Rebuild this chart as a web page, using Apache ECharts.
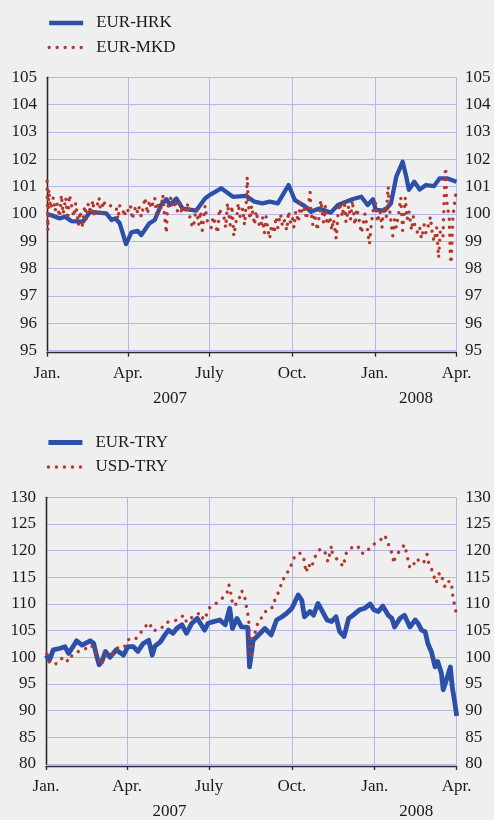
<!DOCTYPE html>
<html>
<head>
<meta charset="utf-8">
<script src="https://cdn.jsdelivr.net/npm/echarts@6/dist/echarts.min.js"></script>
<style>
  html, body { margin: 0; padding: 0; background: #efefef; }
  #chart { width: 494px; height: 820px; }
</style>
</head>
<body>
<div id="chart"></div>
<script>
// x values are days counted from 1 Jan 2007 (day 0) to 1 Apr 2008 (day 456)
var quarterDays = [0, 90, 181, 273, 365, 456];
var quarterLabels = ['Jan.', 'Apr.', 'July', 'Oct.', 'Jan.', 'Apr.'];
var yearDays = [137, 411];
var yearLabels = ['2007', '2008'];

// EUR-HRK
var hrkDays = [0, 7, 14, 20, 27, 40, 48, 66, 72, 76, 81, 88, 94, 101, 105, 114, 120, 127, 133, 137,
  144, 151, 166, 176, 181, 194, 207, 222, 226, 231, 240, 248, 257, 269, 276, 281, 287, 294, 303, 316,
  324, 333, 340, 350, 357, 363, 366, 376, 383, 389, 396, 400, 403, 409, 415, 422, 431, 437, 446, 456];
var hrkValues = [100.0, 99.93, 99.84, 99.9, 99.74, 99.72, 100.08, 100.02, 99.78, 99.84, 99.66, 98.9, 99.33, 99.38, 99.23, 99.66, 99.78, 100.33, 100.54, 100.33,
  100.57, 100.2, 100.12, 100.57, 100.69, 100.94, 100.63, 100.66, 100.57, 100.45, 100.39, 100.45, 100.39, 101.06, 100.51, 100.41, 100.29, 100.08, 100.2, 100.05,
  100.33, 100.45, 100.54, 100.63, 100.33, 100.54, 100.15, 100.12, 100.39, 101.37, 101.91, 101.37, 100.88, 101.18, 100.9, 101.06, 101.02, 101.3, 101.3, 101.18];

// EUR-MKD
var mkdDays = [0, 1, 2, 4, 7, 9, 11, 14, 16, 18, 21, 23, 25, 28, 30,
  32, 35, 37, 39, 42, 44, 46, 49, 51, 53, 56, 58,
  60, 63, 65, 67, 70, 72, 74, 77, 79, 81, 84, 86, 88,
  91, 93, 95, 98, 100, 102, 105, 107, 109, 112, 114, 116,
  120, 122, 124, 127, 129, 131, 133, 134, 136, 138, 141, 143, 145, 148, 150,
  152, 155, 157, 159, 162, 164, 166, 169, 171, 173, 176, 178, 180,
  183, 185, 187, 190, 192, 194, 197, 199, 201, 204, 206, 208, 211,
  213, 215, 218, 220, 222, 223, 224, 226, 228, 231, 233, 235, 238, 240, 242,
  244, 246, 248, 250, 253, 255, 257, 260, 262, 264, 267, 269, 271,
  273, 275, 277, 280, 282, 284, 287, 289, 291, 293, 294, 296, 298, 301, 303,
  305, 308, 310, 312, 315, 317, 319, 322, 324, 326, 329, 331, 333,
  336, 338, 340, 343, 345, 347, 350, 352, 354, 357, 359, 361, 364,
  366, 368, 371, 373, 375, 378, 379, 380, 381, 385, 387, 389, 392, 394,
  396, 399, 401, 403, 406, 408, 410, 413, 415, 417, 420, 422, 424,
  427, 429, 431, 434, 436, 438, 441, 443, 444, 445, 448, 449, 450, 451, 452, 455];
var mkdValues = [101.2, 99.4, 100.9, 100.2, 100.6, 100.1, 100.4, 99.9, 100.7, 100.0, 100.6, 99.8, 100.7, 100.2, 99.9,
  100.4, 99.6, 100.1, 99.5, 100.3, 99.8, 100.4, 100.0, 100.5, 99.9, 100.3, 100.6,
  100.0, 100.5, 100.3, 100.25, 100.3, 100.25, 100.3, 100.25, 99.8, 100.3, 100.25, 99.9, 100.2,
  100.1, 100.3, 99.8, 100.2, 100.0, 100.3, 99.9, 100.2, 100.6, 100.0, 100.5, 100.2,
  100.6, 100.0, 100.4, 100.2, 100.7, 99.9, 99.3, 100.2, 100.4, 100.6, 100.2, 100.5, 100.1, 100.4, 100.0,
  100.3, 100.1, 100.4, 99.9, 99.5, 99.7, 100.2, 99.6, 100.1, 99.4, 100.3, 99.8, 99.6,
  99.5, 99.9, 99.7, 99.3, 100.2, 100.0, 99.9, 99.5, 100.4, 99.6, 100.3, 99.2, 99.8,
  100.4, 99.9, 100.2, 99.6, 100.5, 101.35, 100.5, 99.8, 100.3, 99.6, 100.1, 99.7, 99.5, 99.9, 99.3,
  99.9, 99.4, 99.1, 99.6, 99.3, 99.9, 99.5, 100.0, 99.6, 99.8, 99.4, 100.1, 99.7,
  99.9, 99.5, 100.1, 99.7, 100.4, 100.0, 100.2, 99.8, 100.3, 100.8, 100.1, 99.6, 100.0, 99.4, 99.9,
  100.5, 99.7, 100.3, 99.6, 99.9, 99.4, 99.8, 99.1, 100.0, 100.4, 99.9, 100.5, 99.7,
  100.3, 99.8, 100.5, 99.6, 100.2, 99.9, 99.3, 99.6, 100.0, 99.4, 98.9, 99.6, 100.3,
  100.4, 99.7, 100.1, 99.5, 100.3, 99.9, 100.6, 101.0, 100.3, 99.2, 99.8, 99.5, 100.1, 100.6,
  99.4, 100.6, 99.8, 100.1, 99.4, 99.9, 99.5, 99.3, 99.5, 99.1, 99.6, 99.3, 99.5,
  99.9, 99.3, 99.0, 99.5, 98.4, 99.4, 99.2, 101.4, 101.7, 100.5, 99.8, 98.6, 98.2, 99.0, 99.9, 100.7];

// EUR-TRY
var eurTryDays = [0, 4, 8, 16, 21, 25, 30, 34, 40, 49, 53, 56, 59, 62, 66, 71, 78, 86, 91, 97,
  102, 108, 114, 118, 121, 127, 132, 136, 141, 145, 151, 156, 162, 168, 176, 180, 186, 193, 199, 204,
  207, 212, 217, 224, 226, 230, 236, 243, 250, 256, 262, 267, 273, 280, 284, 287, 293, 297, 302, 306,
  312, 317, 322, 326, 331, 336, 341, 348, 354, 360, 364, 369, 374, 380, 384, 387, 393, 398, 404, 410,
  413, 417, 421, 424, 428, 432, 435, 439, 441, 445, 449, 451, 454, 456];
var eurTryValues = [100.4, 99.5, 101.4, 101.7, 102.0, 100.75, 102.0, 103.1, 102.3, 103.1, 102.6, 100.4, 98.6, 99.2, 101.1, 100.0, 101.4, 100.4, 102.0, 102.0,
  101.1, 102.6, 103.2, 100.4, 102.1, 102.9, 104.2, 105.1, 104.5, 105.4, 106.1, 104.5, 106.4, 107.3, 105.1, 106.4, 106.7, 107.0, 106.1, 109.2,
  105.4, 107.3, 105.7, 105.6, 98.2, 103.2, 104.2, 105.4, 104.2, 107.0, 107.6, 108.2, 109.2, 111.7, 110.7, 107.6, 108.6, 107.9, 110.1, 108.9,
  107.0, 106.7, 107.6, 104.8, 103.9, 107.3, 107.9, 108.9, 109.2, 110.0, 108.9, 108.6, 109.6, 107.9, 107.3, 105.7, 107.3, 107.9, 105.7, 107.0,
  106.4, 105.1, 104.8, 102.6, 101.0, 98.2, 99.2, 97.0, 93.9, 96.0, 98.2, 94.5, 91.4, 89.0];

// USD-TRY
var usdTryDays = [1, 4, 8, 14, 19, 25, 29, 36, 43, 49, 54, 57, 61, 66, 71, 75, 81, 88, 92, 99,
  104, 109, 115, 118, 123, 128, 133, 141, 146, 153, 156, 162, 165, 171, 175, 178, 182, 188, 192, 197,
  201, 203, 205, 206, 210, 212, 215, 217, 220, 223, 225, 226, 227, 228, 229, 232, 236, 241, 245, 252,
  254, 260, 262, 267, 270, 274, 276, 282, 286, 287, 289, 291, 295, 297, 301, 305, 310, 313, 317, 318,
  323, 326, 330, 333, 337, 346, 350, 355, 361, 367, 372, 375, 379, 381, 385, 386, 388, 392, 398, 400,
  402, 404, 408, 411, 416, 419, 423, 425, 429, 433, 437, 440, 443, 446, 450, 451, 452, 454, 456];
var usdTryValues = [100.6, 99.0, 98.6, 99.0, 100.1, 99.2, 100.4, 101.1, 101.5, 102.3, 101.7, 100.1, 98.6, 100.4, 100.1, 100.75, 102.1, 102.1, 103.4, 103.4,
  104.3, 105.6, 106.5, 105.0, 105.1, 105.4, 106.5, 106.8, 107.0, 107.9, 106.6, 107.5, 107.6, 108.4, 107.0, 107.9, 109.4, 110.0, 110.6, 111.25,
  112.0, 113.6, 112.3, 110.75, 109.6, 110.75, 111.25, 112.5, 111.9, 109.0, 107.3, 104.2, 99.8, 101.4, 104.2, 104.5, 107.0, 107.6, 109.0, 109.4,
  110.7, 112.9, 114.5, 115.2, 116.9, 117.6, 119.0, 119.5, 119.0, 117.5, 115.9, 117.5, 116.7, 118.2, 119.6, 120.4, 119.6, 117.9, 120.9, 119.5,
  118.4, 117.9, 117.0, 119.4, 120.4, 120.9, 119.5, 119.5, 120.9, 121.5, 122.1, 122.9, 122.1, 120.6, 119.2, 117.6, 118.9, 119.8, 121.1, 119.8,
  118.2, 116.7, 117.3, 118.5, 117.9, 117.6, 119.3, 117.6, 116.2, 113.9, 115.9, 114.8, 113.2, 114.2, 114.2, 112.6, 111.1, 109.5, 107.7];

var fontFamily = "'Liberation Serif', 'Times New Roman', serif";
var textColor = '#1a1a1a';
var gridColor = '#b2b6e8';
var blue = '#2c50a8';
var red = '#b3382b';
var axisColor = '#2a2a2a';

function pairs(days, values) {
  return days.map(function (d, i) { return [d, values[i]]; });
}

function quarterAxis(gridIndex) {
  return {
    type: 'value', gridIndex: gridIndex, min: 0, max: 456, position: 'bottom', offset: 2,
    axisLine: { show: true, onZero: false, lineStyle: { color: axisColor, width: 1.3 } },
    axisTick: { show: true, length: 4, customValues: quarterDays, lineStyle: { color: axisColor, width: 1.3 } },
    axisLabel: {
      customValues: quarterDays, margin: 12, fontFamily: fontFamily, fontSize: 17, color: textColor,
      formatter: function (v) { return quarterLabels[quarterDays.indexOf(v)]; }
    },
    splitLine: { show: true, lineStyle: { color: gridColor, width: 1 } }
  };
}

function yearAxis(gridIndex) {
  return {
    type: 'value', gridIndex: gridIndex, min: 0, max: 456, position: 'bottom', offset: 2,
    axisLine: { show: false }, axisTick: { show: false }, splitLine: { show: false },
    axisLabel: {
      customValues: yearDays, margin: 37, fontFamily: fontFamily, fontSize: 17, color: textColor,
      formatter: function (v) { return yearLabels[yearDays.indexOf(v)]; }
    }
  };
}

function valueAxis(gridIndex, pos, min, max, step) {
  return {
    type: 'value', gridIndex: gridIndex, position: pos, min: min, max: max, interval: step,
    offset: pos === 'right' ? 1.5 : 0,
    axisLine: { show: true, lineStyle: { color: axisColor, width: 1.3 } },
    axisTick: { show: false },
    axisLabel: { margin: pos === 'right' ? 7 : 10, fontFamily: fontFamily, fontSize: 17, color: textColor },
    splitLine: { show: pos === 'left', lineStyle: { color: gridColor, width: 1.2 } }
  };
}

function legend(names, left, top) {
  return {
    data: names, orient: 'vertical', left: left, top: top, padding: 0,
    itemWidth: 34, itemHeight: 14, itemGap: 7.5, selectedMode: false,
    itemStyle: { opacity: 0 },
    lineStyle: { width: 'inherit' },
    textStyle: { fontFamily: fontFamily, fontSize: 17, color: textColor, padding: [0, 0, 0, 8] }
  };
}

function solidSeries(name, xi, yi, data, width) {
  return {
    name: name, type: 'line', xAxisIndex: xi, yAxisIndex: yi, data: data,
    symbol: 'none', z: 3,
    lineStyle: { color: blue, width: width, join: 'round' }, itemStyle: { color: blue }
  };
}

function dottedSeries(name, xi, yi, data) {
  return {
    name: name, type: 'line', xAxisIndex: xi, yAxisIndex: yi, data: data,
    symbol: 'none', z: 4,
    lineStyle: { color: red, width: 3.4, type: [0.01, 8], cap: 'round' }, itemStyle: { color: red }
  };
}

var chart = echarts.init(document.getElementById('chart'));
chart.setOption({
  animation: false,
  backgroundColor: '#efefef',
  legend: [
    legend(['EUR-HRK', 'EUR-MKD'], 47, 14.5),
    legend(['EUR-TRY', 'USD-TRY'], 46, 434)
  ],
  grid: [
    { left: 47, right: 37.5, top: 77.3, height: 273.4 },
    { left: 46, right: 37.3, top: 497.3, height: 266.7 }
  ],
  xAxis: [quarterAxis(0), yearAxis(0), quarterAxis(1), yearAxis(1)],
  yAxis: [
    valueAxis(0, 'left', 95, 105, 1),
    valueAxis(0, 'right', 95, 105, 1),
    valueAxis(1, 'left', 80, 130, 5),
    valueAxis(1, 'right', 80, 130, 5)
  ],
  series: [
    solidSeries('EUR-HRK', 0, 0, pairs(hrkDays, hrkValues), 4.3),
    dottedSeries('EUR-MKD', 0, 0, pairs(mkdDays, mkdValues)),
    solidSeries('EUR-TRY', 2, 2, pairs(eurTryDays, eurTryValues), 4.8),
    dottedSeries('USD-TRY', 2, 2, pairs(usdTryDays, usdTryValues))
  ]
});
</script>
</body>
</html>
